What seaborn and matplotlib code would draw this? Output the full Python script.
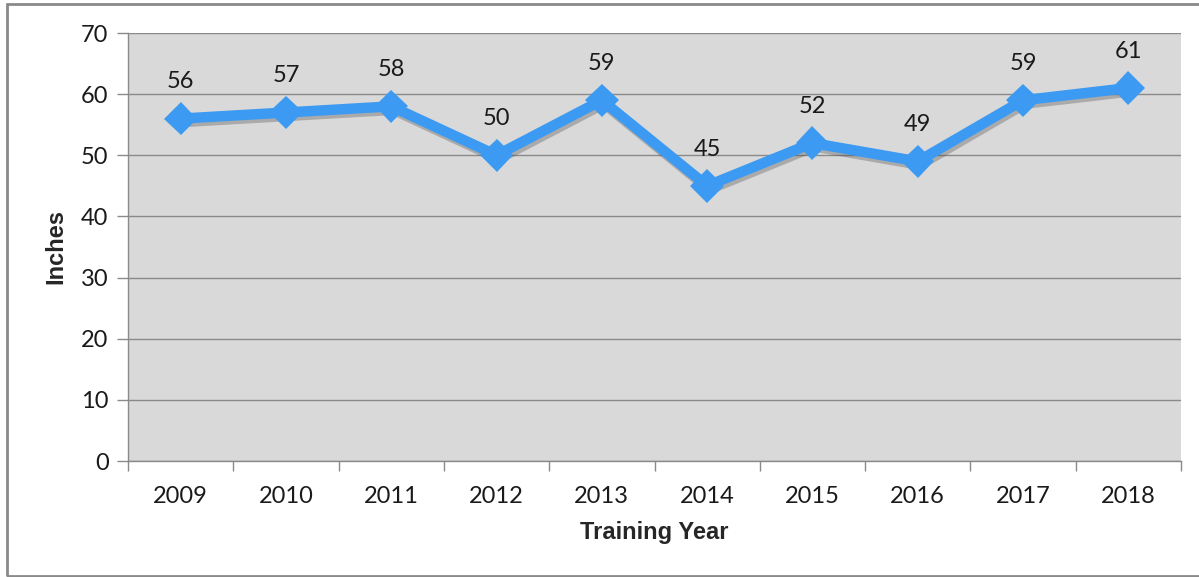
import matplotlib
matplotlib.use("Agg")
import matplotlib.pyplot as plt
import matplotlib.patheffects as pe
from matplotlib.patches import Rectangle
import numpy as np
import pandas as pd
import seaborn as sns

years = [2009, 2010, 2011, 2012, 2013, 2014, 2015, 2016, 2017, 2018]
inches = [56, 57, 58, 50, 59, 45, 52, 49, 59, 61]
y_ticks = [0, 10, 20, 30, 40, 50, 60, 70]

df = pd.DataFrame({"year": years, "inches": inches})

sns.set_style("white")
plt.rcParams['font.family'] = ['Lato', 'DejaVu Sans']

fig = plt.figure(figsize=(11.99, 5.77), dpi=100)
ax = fig.add_axes([128 / 1199, 1 - 461 / 577, (1181 - 128) / 1199, (461 - 33) / 577])
ax.set_facecolor("#d9d9d9")

blue = "#3c9af2"
sns.lineplot(data=df, x="year", y="inches", ax=ax, color=blue, linewidth=7.5,
             marker="D", markersize=17, markeredgewidth=0, zorder=3,
             path_effects=[pe.SimpleLineShadow(offset=(1.5, -2.5), shadow_color="#404040", alpha=0.3),
                           pe.Normal()])

for x, y in zip(years, inches):
    ax.text(x, y + 6.0, str(y), ha="center", va="center", fontsize=17, color="#1a1a1a")

ax.set_xlim(years[0] - 0.5, years[-1] + 0.5)
ax.set_ylim(0, 70)
ax.set_yticks(y_ticks)
ax.yaxis.grid(True, color="#8a8a8a", linewidth=1)
ax.set_axisbelow(True)

ax.set_xticks(years)
ax.set_xticklabels([str(y) for y in years])
ax.set_xticks(np.arange(years[0] - 0.5, years[-1] + 1.5, 1), minor=True)
ax.tick_params(axis="x", which="major", length=0, pad=18, labelsize=17, labelcolor="#1a1a1a")
ax.tick_params(axis="x", which="minor", length=7, width=1, color="#8a8a8a", direction="out", bottom=True)
ax.tick_params(axis="y", length=8, width=1, color="#8a8a8a", direction="out", left=True,
               pad=6, labelsize=17, labelcolor="#1a1a1a")

for s in ["top", "right"]:
    ax.spines[s].set_visible(False)
for s in ["left", "bottom"]:
    ax.spines[s].set_color("#8a8a8a")
    ax.spines[s].set_linewidth(1)

ax.set_xlabel("Training Year", fontsize=17, fontweight="bold", family="Liberation Sans", labelpad=10)
ax.set_ylabel("Inches", fontsize=17, fontweight="bold", family="Liberation Sans", labelpad=10)

fig.patches.append(Rectangle((7 / 1199, 1 / 577), 1.2, (573 - 1) / 577, transform=fig.transFigure,
                             fill=False, edgecolor="#8a8a8a", linewidth=2))

fig.savefig("out.png", dpi=100)
